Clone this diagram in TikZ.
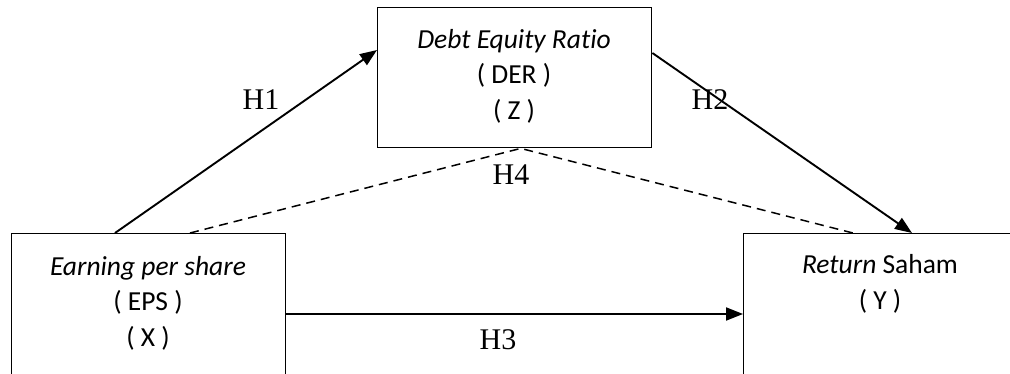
\documentclass[tikz,border=0pt]{standalone}
\usepackage{fontspec}
\setmainfont[Ligatures={NoCommon}]{Carlito}
\newfontfamily\hfont{Liberation Serif}
\usetikzlibrary{arrows.meta,calc}
\tikzset{
  varbox/.style={draw=black, line width=1.4pt, minimum width=274pt, inner sep=0pt, anchor=north west},
  vartext/.style={align=center, inner sep=0pt, font=\fontsize{27.5}{35.5}\selectfont},
  hyplabel/.style={inner sep=0pt, font=\hfont\fontsize{30}{30}\selectfont},
  arrowline/.style={line width=1.9pt, -{Triangle[length=17pt,width=13pt]}},
  mediline/.style={line width=1.5pt, dash pattern=on 9pt off 6pt}
}
\begin{document}
\begin{tikzpicture}[x=1pt,y=-1pt]
\useasboundingbox (0,0) rectangle (1010,373);
\clip (0,0) rectangle (1010,373);
% boxes
\node[varbox, minimum height=140pt] (der) at (377,7) {};
\node[varbox, minimum height=170pt] (eps) at (11,233) {};
\node[varbox, minimum height=170pt] (ret) at (743,233) {};
% texts
\node[vartext] (dertext) at (514,76) {\textit{Debt Equity Ratio}\\( DER )\\( Z )};
\node[vartext] (epstext) at (148,303) {\textit{Earning per share}\\( EPS )\\( X )};
\node[vartext] (rettext) at (880,284) {\textit{Return} Saham\\( Y )};
% helper points
\coordinate (h1s) at ($(eps.north west)+(104,0)$);
\coordinate (h1e) at ($(der.north west)+(0,43)$);
\coordinate (h2s) at ($(der.north east)+(0,46)$);
\coordinate (h2e) at ($(ret.north west)+(169,0)$);
\coordinate (h3s) at ($(eps.north east)+(0,81)$);
\coordinate (h3e) at ($(ret.north west)+(0,81)$);
\coordinate (h4a) at ($(eps.north west)+(179,0)$);
\coordinate (h4b) at ($(der.south)+(6,0)$);
\coordinate (h4c) at ($(ret.north west)+(110,0)$);
% connectors
\draw[arrowline] (h1s) -- (h1e);
\draw[arrowline] (h2s) -- (h2e);
\draw[arrowline] (h3s) -- (h3e);
\draw[mediline] (h4a) -- (h4b) -- (h4c);
% labels
\node[hyplabel] (lh1) at (261,100) {H1};
\node[hyplabel] (lh2) at (710,100) {H2};
\node[hyplabel] (lh3) at (498,340) {H3};
\node[hyplabel] (lh4) at (511,175) {H4};
\end{tikzpicture}
\end{document}
